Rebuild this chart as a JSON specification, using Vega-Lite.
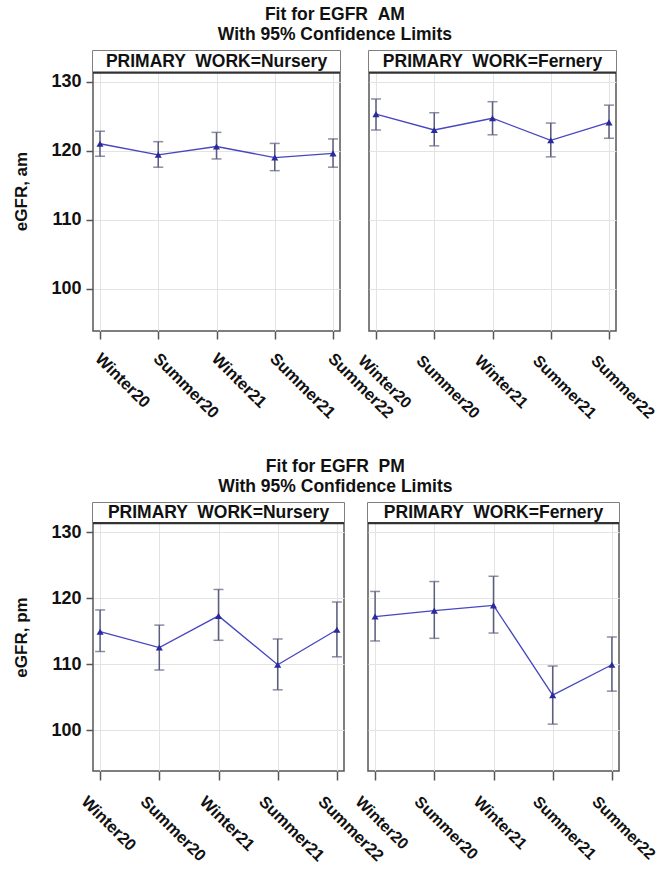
{
  "$schema": "https://vega.github.io/schema/vega-lite/v6.json",
  "padding": {"left": 12, "top": 5, "right": 0, "bottom": 0},
  "background": "white",
  "datasets": {
    "fits": [
      {"session": "AM", "work": "Nursery", "time": "Winter20", "est": 121.0, "lo": 119.2, "hi": 122.8},
      {"session": "AM", "work": "Nursery", "time": "Summer20", "est": 119.4, "lo": 117.6, "hi": 121.3},
      {"session": "AM", "work": "Nursery", "time": "Winter21", "est": 120.6, "lo": 118.8, "hi": 122.65},
      {"session": "AM", "work": "Nursery", "time": "Summer21", "est": 119.0, "lo": 117.1, "hi": 121.05},
      {"session": "AM", "work": "Nursery", "time": "Summer22", "est": 119.6, "lo": 117.6, "hi": 121.7},
      {"session": "AM", "work": "Fernery", "time": "Winter20", "est": 125.3, "lo": 123.0, "hi": 127.5},
      {"session": "AM", "work": "Fernery", "time": "Summer20", "est": 123.0, "lo": 120.7, "hi": 125.5},
      {"session": "AM", "work": "Fernery", "time": "Winter21", "est": 124.7, "lo": 122.3, "hi": 127.1},
      {"session": "AM", "work": "Fernery", "time": "Summer21", "est": 121.5, "lo": 119.1, "hi": 124.0},
      {"session": "AM", "work": "Fernery", "time": "Summer22", "est": 124.1, "lo": 121.8, "hi": 126.6},
      {"session": "PM", "work": "Nursery", "time": "Winter20", "est": 114.9, "lo": 111.9, "hi": 118.2},
      {"session": "PM", "work": "Nursery", "time": "Summer20", "est": 112.5, "lo": 109.1, "hi": 115.9},
      {"session": "PM", "work": "Nursery", "time": "Winter21", "est": 117.3, "lo": 113.6, "hi": 121.3},
      {"session": "PM", "work": "Nursery", "time": "Summer21", "est": 109.9, "lo": 106.1, "hi": 113.8},
      {"session": "PM", "work": "Nursery", "time": "Summer22", "est": 115.2, "lo": 111.1, "hi": 119.4},
      {"session": "PM", "work": "Fernery", "time": "Winter20", "est": 117.2, "lo": 113.5, "hi": 121.0},
      {"session": "PM", "work": "Fernery", "time": "Summer20", "est": 118.1, "lo": 113.9, "hi": 122.5},
      {"session": "PM", "work": "Fernery", "time": "Winter21", "est": 118.9, "lo": 114.7, "hi": 123.3},
      {"session": "PM", "work": "Fernery", "time": "Summer21", "est": 105.3, "lo": 100.9, "hi": 109.7},
      {"session": "PM", "work": "Fernery", "time": "Summer22", "est": 109.9, "lo": 105.9, "hi": 114.1}
    ]
  },
  "config": {
    "font": "Liberation Sans",
    "view": {"stroke": "#555555", "strokeWidth": 1.5},
    "axis": {
      "gridColor": "#e3e3e3",
      "gridWidth": 1,
      "tickColor": "#555555",
      "tickWidth": 1.5,
      "domain": false,
      "labelColor": "#111111",
      "labelFont": "Liberation Sans",
      "labelFontWeight": "bold",
      "titleFont": "Liberation Sans",
      "titleFontWeight": "bold",
      "titleColor": "#111111"
    },
    "title": {"font": "Liberation Sans", "fontWeight": "bold", "fontSize": 17.5, "color": "#111111", "anchor": "middle", "lineHeight": 20}
  },
  "spacing": 34,
  "vconcat": [
    {
      "title": {"text": ["Fit for EGFR \u00a0AM", "With 95% Confidence Limits"], "offset": 7},
      "spacing": 29,
      "bounds": "flush",
      "hconcat": [
        {
          "width": 247, "height": 280,
          "layer": [
            {
              "data": {"name": "fits"},
              "transform": [{"filter": "datum.session === 'AM' && datum.work === 'Nursery'"}],
              "mark": {"type": "errorbar", "ticks": {"size": 10}, "thickness": 1.5, "color": "#5b5e7e"},
              "encoding": {
                "x": {"field": "time", "type": "ordinal", "sort": ["Winter20", "Summer20", "Winter21", "Summer21", "Summer22"], "scale": {"type": "point", "padding": 0.12},
                  "axis": {"title": null, "labelAngle": 45, "labelAlign": "left", "labelBaseline": "top", "tickSize": 8, "labelPadding": 11, "labelOffset": 3, "labelFontSize": 16.5, "grid": true}},
                "y": {"field": "lo", "type": "quantitative", "scale": {"domain": [93.85, 134.45], "nice": false, "zero": false},
                  "axis": {"values": [100, 110, 120, 130], "title": "eGFR, am", "titleFontSize": 17, "titlePadding": 20, "labelFontSize": 18, "tickSize": 7, "labelPadding": 5, "grid": true}},
                "y2": {"field": "hi"}
              }
            },
            {
              "data": {"name": "fits"},
              "transform": [{"filter": "datum.session === 'AM' && datum.work === 'Nursery'"}],
              "mark": {"type": "line", "color": "#4646c0", "strokeWidth": 1.3},
              "encoding": {
                "x": {"field": "time", "type": "ordinal", "sort": ["Winter20", "Summer20", "Winter21", "Summer21", "Summer22"]},
                "y": {"field": "est", "type": "quantitative"}
              }
            },
            {
              "data": {"name": "fits"},
              "transform": [{"filter": "datum.session === 'AM' && datum.work === 'Nursery'"}],
              "mark": {"type": "point", "shape": "triangle-up", "filled": true, "size": 50, "color": "#2a2a9c", "opacity": 1},
              "encoding": {
                "x": {"field": "time", "type": "ordinal", "sort": ["Winter20", "Summer20", "Winter21", "Summer21", "Summer22"]},
                "y": {"field": "est", "type": "quantitative"}
              }
            },
            {
              "data": {"values": [{"header": "PRIMARY \u00a0WORK=Nursery"}]},
              "mark": {"type": "rect", "color": "white", "opacity": 1},
              "encoding": {"y": {"datum": 131.3}, "y2": {"datum": 134.45}}
            },
            {
              "data": {"values": [{"header": "PRIMARY \u00a0WORK=Nursery"}]},
              "mark": {"type": "rule", "color": "#333333", "strokeWidth": 2.2},
              "encoding": {"y": {"datum": 131.3}}
            },
            {
              "data": {"values": [{"header": "PRIMARY \u00a0WORK=Nursery"}]},
              "mark": {"type": "text", "fontSize": 17.5, "fontWeight": "bold", "color": "#111111", "baseline": "middle", "align": "center"},
              "encoding": {"y": {"datum": 132.85}, "text": {"field": "header"}}
            }
          ]
        },
        {
          "width": 247, "height": 280,
          "layer": [
            {
              "data": {"name": "fits"},
              "transform": [{"filter": "datum.session === 'AM' && datum.work === 'Fernery'"}],
              "mark": {"type": "errorbar", "ticks": {"size": 10}, "thickness": 1.5, "color": "#5b5e7e"},
              "encoding": {
                "x": {"field": "time", "type": "ordinal", "sort": ["Winter20", "Summer20", "Winter21", "Summer21", "Summer22"], "scale": {"type": "point", "padding": 0.12},
                  "axis": {"title": null, "labelAngle": 45, "labelAlign": "left", "labelBaseline": "top", "tickSize": 8, "labelPadding": 13, "labelOffset": -10, "labelFontSize": 16, "grid": true}},
                "y": {"field": "lo", "type": "quantitative", "scale": {"domain": [93.85, 134.45], "nice": false, "zero": false},
                  "axis": {"values": [100, 110, 120, 130], "title": null, "labels": false, "ticks": false, "grid": true}},
                "y2": {"field": "hi"}
              }
            },
            {
              "data": {"name": "fits"},
              "transform": [{"filter": "datum.session === 'AM' && datum.work === 'Fernery'"}],
              "mark": {"type": "line", "color": "#4646c0", "strokeWidth": 1.3},
              "encoding": {
                "x": {"field": "time", "type": "ordinal", "sort": ["Winter20", "Summer20", "Winter21", "Summer21", "Summer22"]},
                "y": {"field": "est", "type": "quantitative"}
              }
            },
            {
              "data": {"name": "fits"},
              "transform": [{"filter": "datum.session === 'AM' && datum.work === 'Fernery'"}],
              "mark": {"type": "point", "shape": "triangle-up", "filled": true, "size": 50, "color": "#2a2a9c", "opacity": 1},
              "encoding": {
                "x": {"field": "time", "type": "ordinal", "sort": ["Winter20", "Summer20", "Winter21", "Summer21", "Summer22"]},
                "y": {"field": "est", "type": "quantitative"}
              }
            },
            {
              "data": {"values": [{"header": "PRIMARY \u00a0WORK=Fernery"}]},
              "mark": {"type": "rect", "color": "white", "opacity": 1},
              "encoding": {"y": {"datum": 131.3}, "y2": {"datum": 134.45}}
            },
            {
              "data": {"values": [{"header": "PRIMARY \u00a0WORK=Fernery"}]},
              "mark": {"type": "rule", "color": "#333333", "strokeWidth": 2.2},
              "encoding": {"y": {"datum": 131.3}}
            },
            {
              "data": {"values": [{"header": "PRIMARY \u00a0WORK=Fernery"}]},
              "mark": {"type": "text", "fontSize": 17.5, "fontWeight": "bold", "color": "#111111", "baseline": "middle", "align": "center"},
              "encoding": {"y": {"datum": 132.85}, "text": {"field": "header"}}
            }
          ]
        }
      ]
    },
    {
      "title": {"text": ["Fit for EGFR \u00a0PM", "With 95% Confidence Limits"], "offset": 7},
      "spacing": 24,
      "bounds": "flush",
      "hconcat": [
        {
          "width": 251, "height": 268,
          "layer": [
            {
              "data": {"name": "fits"},
              "transform": [{"filter": "datum.session === 'PM' && datum.work === 'Nursery'"}],
              "mark": {"type": "errorbar", "ticks": {"size": 10}, "thickness": 1.5, "color": "#5b5e7e"},
              "encoding": {
                "x": {"field": "time", "type": "ordinal", "sort": ["Winter20", "Summer20", "Winter21", "Summer21", "Summer22"], "scale": {"type": "point", "padding": 0.12},
                  "axis": {"title": null, "labelAngle": 45, "labelAlign": "left", "labelBaseline": "top", "tickSize": 9, "labelPadding": 13, "labelOffset": -11, "labelFontSize": 16.5, "grid": true}},
                "y": {"field": "lo", "type": "quantitative", "scale": {"domain": [93.8, 134.4], "nice": false, "zero": false},
                  "axis": {"values": [100, 110, 120, 130], "title": "eGFR, pm", "titleFontSize": 17, "titlePadding": 20, "labelFontSize": 18, "tickSize": 7, "labelPadding": 5, "grid": true}},
                "y2": {"field": "hi"}
              }
            },
            {
              "data": {"name": "fits"},
              "transform": [{"filter": "datum.session === 'PM' && datum.work === 'Nursery'"}],
              "mark": {"type": "line", "color": "#4646c0", "strokeWidth": 1.3},
              "encoding": {
                "x": {"field": "time", "type": "ordinal", "sort": ["Winter20", "Summer20", "Winter21", "Summer21", "Summer22"]},
                "y": {"field": "est", "type": "quantitative"}
              }
            },
            {
              "data": {"name": "fits"},
              "transform": [{"filter": "datum.session === 'PM' && datum.work === 'Nursery'"}],
              "mark": {"type": "point", "shape": "triangle-up", "filled": true, "size": 50, "color": "#2a2a9c", "opacity": 1},
              "encoding": {
                "x": {"field": "time", "type": "ordinal", "sort": ["Winter20", "Summer20", "Winter21", "Summer21", "Summer22"]},
                "y": {"field": "est", "type": "quantitative"}
              }
            },
            {
              "data": {"values": [{"header": "PRIMARY \u00a0WORK=Nursery"}]},
              "mark": {"type": "rect", "color": "white", "opacity": 1},
              "encoding": {"y": {"datum": 131.35}, "y2": {"datum": 134.4}}
            },
            {
              "data": {"values": [{"header": "PRIMARY \u00a0WORK=Nursery"}]},
              "mark": {"type": "rule", "color": "#333333", "strokeWidth": 2.2},
              "encoding": {"y": {"datum": 131.35}}
            },
            {
              "data": {"values": [{"header": "PRIMARY \u00a0WORK=Nursery"}]},
              "mark": {"type": "text", "fontSize": 17.5, "fontWeight": "bold", "color": "#111111", "baseline": "middle", "align": "center"},
              "encoding": {"y": {"datum": 132.85}, "text": {"field": "header"}}
            }
          ]
        },
        {
          "width": 251, "height": 268,
          "layer": [
            {
              "data": {"name": "fits"},
              "transform": [{"filter": "datum.session === 'PM' && datum.work === 'Fernery'"}],
              "mark": {"type": "errorbar", "ticks": {"size": 10}, "thickness": 1.5, "color": "#5b5e7e"},
              "encoding": {
                "x": {"field": "time", "type": "ordinal", "sort": ["Winter20", "Summer20", "Winter21", "Summer21", "Summer22"], "scale": {"type": "point", "padding": 0.12},
                  "axis": {"title": null, "labelAngle": 45, "labelAlign": "left", "labelBaseline": "top", "tickSize": 9, "labelPadding": 13, "labelOffset": -12, "labelFontSize": 16, "grid": true}},
                "y": {"field": "lo", "type": "quantitative", "scale": {"domain": [93.8, 134.4], "nice": false, "zero": false},
                  "axis": {"values": [100, 110, 120, 130], "title": null, "labels": false, "ticks": false, "grid": true}},
                "y2": {"field": "hi"}
              }
            },
            {
              "data": {"name": "fits"},
              "transform": [{"filter": "datum.session === 'PM' && datum.work === 'Fernery'"}],
              "mark": {"type": "line", "color": "#4646c0", "strokeWidth": 1.3},
              "encoding": {
                "x": {"field": "time", "type": "ordinal", "sort": ["Winter20", "Summer20", "Winter21", "Summer21", "Summer22"]},
                "y": {"field": "est", "type": "quantitative"}
              }
            },
            {
              "data": {"name": "fits"},
              "transform": [{"filter": "datum.session === 'PM' && datum.work === 'Fernery'"}],
              "mark": {"type": "point", "shape": "triangle-up", "filled": true, "size": 50, "color": "#2a2a9c", "opacity": 1},
              "encoding": {
                "x": {"field": "time", "type": "ordinal", "sort": ["Winter20", "Summer20", "Winter21", "Summer21", "Summer22"]},
                "y": {"field": "est", "type": "quantitative"}
              }
            },
            {
              "data": {"values": [{"header": "PRIMARY \u00a0WORK=Fernery"}]},
              "mark": {"type": "rect", "color": "white", "opacity": 1},
              "encoding": {"y": {"datum": 131.35}, "y2": {"datum": 134.4}}
            },
            {
              "data": {"values": [{"header": "PRIMARY \u00a0WORK=Fernery"}]},
              "mark": {"type": "rule", "color": "#333333", "strokeWidth": 2.2},
              "encoding": {"y": {"datum": 131.35}}
            },
            {
              "data": {"values": [{"header": "PRIMARY \u00a0WORK=Fernery"}]},
              "mark": {"type": "text", "fontSize": 17.5, "fontWeight": "bold", "color": "#111111", "baseline": "middle", "align": "center"},
              "encoding": {"y": {"datum": 132.85}, "text": {"field": "header"}}
            }
          ]
        }
      ]
    }
  ]
}
